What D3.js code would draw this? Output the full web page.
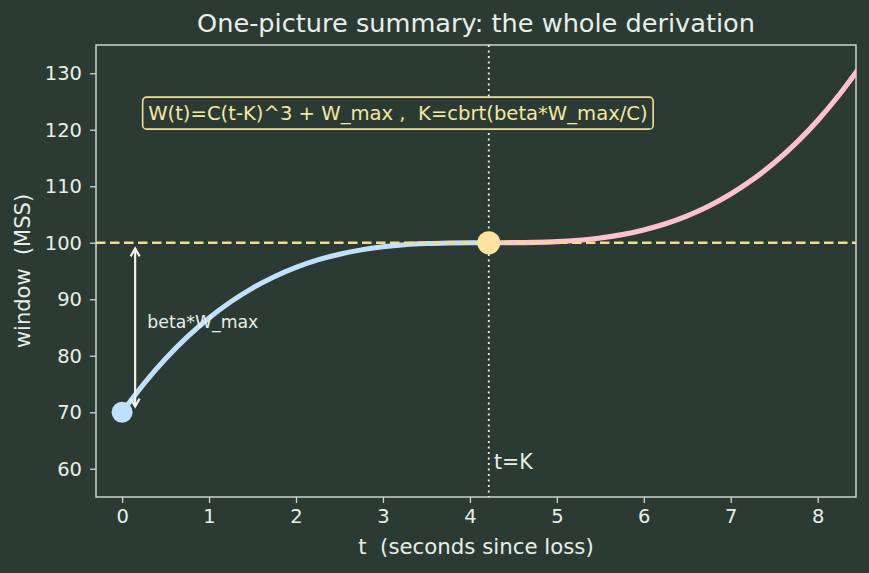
<!DOCTYPE html>
<html>
<head>
<meta charset="utf-8">
<script src="https://cdn.jsdelivr.net/npm/d3@7"></script>
<style>
  body { margin: 0; background: #2b3b34; }
  svg { display: block; font-family: "DejaVu Sans", sans-serif; }
  svg text { white-space: pre; }
</style>
</head>
<body>
<div id="chart"></div>
<script>
// concave part (before K) and convex part (after K)
var tConcave = [0, 0.25, 0.5, 0.75, 1, 1.25, 1.5, 1.75, 2, 2.25, 2.5, 2.75, 3, 3.25, 3.5, 3.75, 4, 4.217];
var wConcave = [70, 75.03, 79.46, 83.33, 86.68, 89.55, 91.98, 93.99, 95.64, 96.96, 97.97, 98.74, 99.28, 99.64, 99.85, 99.96, 100, 100];
var tConvex = [4.217, 4.5, 4.75, 5, 5.25, 5.5, 5.75, 6, 6.25, 6.5, 6.75, 7, 7.25, 7.5, 7.75, 8, 8.25, 8.5];
var wConvex = [100, 100.01, 100.06, 100.19, 100.44, 100.84, 101.44, 102.27, 103.36, 104.76, 106.5, 108.62, 111.16, 114.15, 117.64, 121.65, 126.24, 131.42];

var W_max = 100, K = 4.217, beta = 0.3;
var xTicks = [0, 1, 2, 3, 4, 5, 6, 7, 8];
var yTicks = [60, 70, 80, 90, 100, 110, 120, 130];

var margin = { top: 45, right: 13, bottom: 76, left: 96 },
    width = 869 - margin.left - margin.right,
    height = 573 - margin.top - margin.bottom;

var fg = "#e8efe6", spine = "#c9d6cc";

var x = d3.scaleLinear().domain([-0.3, 8.44]).range([0, width]);
var y = d3.scaleLinear().domain([55, 135]).range([height, 0]);

var svg = d3.select("#chart").append("svg")
    .attr("width", 869)
    .attr("height", 573);

svg.append("rect").attr("width", 869).attr("height", 573).attr("fill", "#2b3b34");

svg.append("defs").append("clipPath").attr("id", "clip")
  .append("rect").attr("width", width).attr("height", height);

var g = svg.append("g")
    .attr("transform", "translate(" + margin.left + "," + margin.top + ")");

// title
svg.append("text")
    .attr("x", margin.left + width / 2).attr("y", 32)
    .attr("text-anchor", "middle")
    .attr("fill", fg).attr("font-size", 25.6)
    .text("One-picture summary: the whole derivation");

// axes
var xAxis = g.append("g")
    .attr("transform", "translate(0," + height + ")")
    .call(d3.axisBottom(x).tickValues(xTicks).tickSize(6).tickPadding(6));
var yAxis = g.append("g")
    .call(d3.axisLeft(y).tickValues(yTicks).tickSize(6).tickPadding(8));
[xAxis, yAxis].forEach(function (a) {
  a.select(".domain").remove();
  a.selectAll("line").attr("stroke", spine).attr("stroke-width", 1.3);
  a.selectAll("text").attr("fill", fg).attr("font-size", 19.5).attr("font-family", "DejaVu Sans");
});

// frame
g.append("rect")
    .attr("width", width).attr("height", height)
    .attr("fill", "none").attr("stroke", spine).attr("stroke-width", 1.5);

// axis labels
g.append("text")
    .attr("x", width / 2).attr("y", height + 57)
    .attr("text-anchor", "middle").attr("fill", fg).attr("font-size", 21.3)
    .text("t  (seconds since loss)");
g.append("text")
    .attr("transform", "translate(-66," + height / 2 + ") rotate(-90)")
    .attr("text-anchor", "middle").attr("fill", fg).attr("font-size", 21)
    .text("window  (MSS)");

var plot = g.append("g").attr("clip-path", "url(#clip)");

var line = d3.line()
    .x(function (d) { return x(d[0]); })
    .y(function (d) { return y(d[1]); })
    .curve(d3.curveMonotoneX);

plot.append("path")
    .datum(d3.zip(tConcave, wConcave))
    .attr("d", line)
    .attr("fill", "none").attr("stroke", "#bfe0ff").attr("stroke-width", 5);
plot.append("path")
    .datum(d3.zip(tConvex, wConvex))
    .attr("d", line)
    .attr("fill", "none").attr("stroke", "#ffc0d0").attr("stroke-width", 5.2);

// W_max line and t=K line
plot.append("line")
    .attr("x1", 0).attr("x2", width)
    .attr("y1", y(W_max)).attr("y2", y(W_max))
    .attr("stroke", "#f3dc8f").attr("stroke-width", 2.4)
    .attr("stroke-dasharray", "9.5,4.5");
plot.append("line")
    .attr("x1", x(K)).attr("x2", x(K))
    .attr("y1", 0).attr("y2", height)
    .attr("stroke", "#eeeeea").attr("stroke-width", 1.8)
    .attr("stroke-dasharray", "2,3.5");

// markers
plot.append("circle").attr("cx", x(0)).attr("cy", y(W_max * (1 - beta)))
    .attr("r", 10.5).attr("fill", "#bfe0ff");
plot.append("circle").attr("cx", x(K)).attr("cy", y(W_max))
    .attr("r", 11.5).attr("fill", "#ffe3a0");

// beta*W_max double arrow
var ax = x(0.15), ya = y(99), yb = y(71);
var arrow = plot.append("g").attr("stroke", "#f2f2ea").attr("stroke-width", 2.2).attr("fill", "none");
arrow.append("line").attr("x1", ax).attr("x2", ax).attr("y1", ya).attr("y2", yb);
arrow.append("path").attr("d", "M" + (ax - 4.5) + "," + (ya + 8) + "L" + ax + "," + ya + "L" + (ax + 4.5) + "," + (ya + 8));
arrow.append("path").attr("d", "M" + (ax - 4.5) + "," + (yb - 8) + "L" + ax + "," + yb + "L" + (ax + 4.5) + "," + (yb - 8));

plot.append("text")
    .attr("x", x(0.29)).attr("y", y(85.9))
    .attr("dy", "0.35em").attr("fill", fg).attr("font-size", 17.3)
    .text("beta*W_max");

plot.append("text")
    .attr("x", x(K + 0.06)).attr("y", y(60))
    .attr("fill", fg).attr("font-size", 20.5)
    .text("t=K");

// formula box
var formula = plot.append("g");
var ft = formula.append("text")
    .attr("x", x(0.3)).attr("y", y(123))
    .attr("dy", "0.35em").attr("fill", "#f5e6a3").attr("font-size", 19.6)
    .text("W(t)=C(t-K)^3 + W_max ,  K=cbrt(beta*W_max/C)");
var bb = ft.node().getBBox();
formula.insert("rect", "text")
    .attr("x", bb.x - 5.5).attr("y", bb.y - 4.5)
    .attr("width", bb.width + 11).attr("height", bb.height + 9)
    .attr("rx", 4)
    .attr("fill", "#2b3b34").attr("stroke", "#f1df9a").attr("stroke-width", 1.6);
</script>
</body>
</html>
